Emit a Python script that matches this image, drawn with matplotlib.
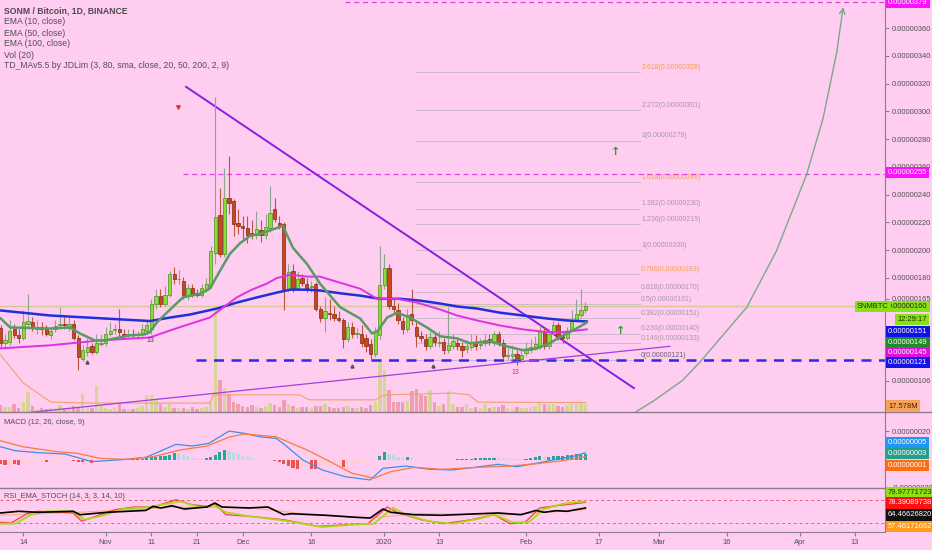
import datetime as dt
import matplotlib
matplotlib.use("Agg")
import matplotlib.pyplot as plt
from matplotlib.lines import Line2D

# ---------------- data (prices in units of 1e-8 BTC) ----------------
start_day = dt.date(2019, 10, 9)

opens = [144, 133, 134, 143.6, 138.7, 136.6, 147, 148, 143.5, 145,
         143, 139, 143, 146, 147, 144, 147, 137, 122, 126.5,
         130.8, 126.5, 132.5, 133, 140, 142.5, 143, 139.5, 139, 139.6,
         139, 139.6, 142, 143, 161.6, 167, 161, 168, 183, 179,
         178, 167, 173, 169, 168, 172, 174.5, 198, 225.3, 197.4,
         237.5, 235.4, 219.6, 217.5, 216, 212.5, 211, 214.6, 211, 216,
         229.6, 219.6, 218.9, 172.3, 185, 173, 180, 176, 173.5, 176,
         158, 151.5, 155, 154.4, 151.5, 150, 136, 144.4, 140, 140,
         137, 132.2, 125, 138.6, 175, 187, 160, 156.6, 148.7, 143.6,
         154.4, 144.4, 138, 136, 131, 137.2, 133, 133.6, 128, 130.8,
         133, 130.8, 128.6, 130, 133.6, 131.5, 133, 135.8, 133.6, 139.4,
         133, 124, 124, 125, 122, 125.7, 128, 130, 131, 142,
         131, 141, 146, 138, 137, 143.6, 149.4, 153, 156.6]
highs = [146, 140, 150, 147, 143, 156.6, 168.7, 152, 150, 148,
         146, 145, 150, 159, 152, 152, 150, 139, 132, 137,
         133, 140, 140, 145, 148, 147, 158, 143, 143, 143,
         142, 147, 150, 165, 172, 172, 174, 185, 188, 186,
         181, 176, 176, 172, 176, 180, 203, 310.6, 245, 259,
         267.6, 237, 230, 225, 225, 222, 228, 222, 226, 246,
         237.5, 225, 220, 190, 190, 185, 183, 180, 178, 177,
         160, 166, 165, 160, 156, 151, 148, 148, 144, 146,
         140, 136, 145, 203, 197, 190, 165, 162, 152, 158,
         172, 150, 142, 140, 142, 140, 142, 137, 159, 140,
         136, 134, 135, 140, 139, 137, 140, 140, 142, 142,
         136, 130, 132, 128, 128, 134, 136, 138, 146, 145,
         143, 149, 148, 141, 145, 157, 165, 172, 163]
lows = [130, 129, 132, 137, 133, 135, 144, 142, 140, 139,
        138, 136, 141, 143, 143, 142, 135, 113.6, 120, 124,
        125, 125, 131, 131, 138, 140, 138, 137, 137, 137,
        137, 138, 140, 140, 158, 159, 160, 166, 176, 176,
        165, 164, 166, 166, 166, 170, 173, 190, 195, 195,
        226, 210, 212, 208, 205, 208, 208, 206, 208, 213,
        220, 215, 156.6, 170, 170, 171, 174, 170, 170, 156,
        148, 140.8, 150, 149, 148, 129.3, 134, 137, 137, 130,
        127, 121, 123, 136, 172, 158, 155, 147, 140, 141,
        146, 130, 134, 128, 129, 131, 130, 125, 126, 129,
        128, 123, 126, 128, 128, 129, 131, 132, 131, 131,
        121, 121, 121, 117, 120, 124, 126, 128, 129, 129,
        129, 139, 135, 133, 135, 142, 148, 151, 155]
closes = [133, 135, 142, 138.7, 136.6, 148, 149, 144.5, 144.5, 143,
          140, 142, 145.6, 146.5, 146, 147, 137, 123, 128, 130,
          127, 133, 133.5, 140, 142, 143.5, 141, 139, 139.6, 139.4,
          139.5, 143.6, 146, 161.6, 167, 161.6, 168, 183, 179.5, 179.5,
          168, 173, 168, 168, 173, 176, 199.5, 224, 197.4, 237.5,
          234, 219, 217.5, 216, 211, 212, 215, 211, 216.8, 226.8,
          222.5, 218, 172.3, 184, 173, 179.5, 176.6, 173, 174, 158,
          151, 156, 154, 151.5, 150, 136, 144.4, 139.4, 140.5, 133,
          130.8, 125, 141, 175, 187, 160, 158, 149.4, 143, 153,
          149.4, 138, 137, 131, 137.2, 133.6, 133.5, 128, 131.5, 134.4,
          130.8, 128, 130.8, 133, 130.8, 132, 135, 133.6, 139.4, 133,
          123.6, 124.5, 125.5, 122.2, 124.3, 128, 130, 132.2, 142, 131,
          139.4, 146, 137, 136.6, 142, 149.4, 154.4, 156.6, 160]
volumes_m = [15.4, 11, 11, 17.6, 8.8, 22, 44, 13.2, 6.6, 8.8,
             6.6, 8.8, 6.6, 15.4, 8.8, 6.6, 13.2, 8.8, 39.6, 13.2,
             8.8, 57.2, 17.6, 8.8, 6.6, 8.8, 17.6, 6.6, 6.6, 6.6,
             8.8, 13.2, 37.4, 37.4, 26.4, 17.6, 11, 17.6, 8.8, 8.8,
             8.8, 6.6, 11, 6.6, 8.8, 11, 22, 226.6, 70.4, 52.8,
             39.6, 22, 17.6, 13.2, 11, 15.4, 11, 8.8, 13.2, 19.8,
             15.4, 11, 26.4, 17.6, 13.2, 8.8, 11, 11, 8.8, 13.2,
             13.2, 17.6, 11, 8.8, 8.8, 11, 13.2, 8.8, 8.8, 11,
             8.8, 15.4, 22, 116.6, 92.4, 48.4, 22, 22, 22, 24.2,
             46.2, 50.6, 37.4, 35.2, 48.4, 22, 13.2, 17.6, 46.2, 17.6,
             11, 11, 17.6, 8.8, 11, 8.8, 17.6, 8.8, 11, 11,
             15.4, 8.8, 6.6, 11, 8.8, 8.8, 11, 13.2, 19.8, 17.6,
             15.4, 17.6, 13.2, 11, 15.4, 17.6, 17.6, 19.8, 17.578]
vol_ma_days = [0, 5, 11, 20, 45.8, 46.6, 65.5, 67.5, 82, 83.5, 84.5, 99, 102.5, 104.5, 128]
vol_ma_m = [125, 63, 21, 19, 19, 37, 37, 26, 26, 35, 37, 41, 37, 21, 20]

# moving averages (day offset, price)
ema10_days = [0, 2.1, 6.5, 10.8, 15.2, 17.4, 20.7, 22.9, 25.1, 28.3, 31.6, 32.7, 34.2, 36.4,
              39.9, 43.7, 45.8, 48, 50.2, 52.4, 54.6, 56.8, 59.6, 61.8, 64, 65.5, 67.1, 69.9,
              74.3, 78.7, 81.3, 82.6, 84.6, 86.8, 89.6, 93.3, 96.2, 99.9, 102.7, 107.1, 110.8,
              114.3, 117.4, 120.2, 122.4, 125.3, 128.3]
ema10 = [151, 144.4, 144, 143.6, 144.4, 140, 135, 135, 136.6, 138.7, 139.4, 141, 148, 155,
         166, 168.7, 172.3, 185, 197.4, 205, 210.3, 211.7, 215, 217.5, 201.7, 196, 190, 176,
         159, 150.8, 140, 142, 151.5, 155, 151.5, 144.4, 138, 136.5, 133, 134.4, 130.8,
         128, 129.3, 133, 137.4, 142.2, 148]
ema50_days = [0, 10.8, 21.8, 32.7, 37.1, 41.5, 45.8, 48.7, 51.7, 54.6, 58.3, 60.5, 63.4, 67.1,
              69.9, 74.3, 78.7, 82.4, 86.8, 91.1, 96.2, 99.9, 104.3, 109.3, 114.3, 119.6, 123.1, 128.3]
ema50 = [129.3, 131.5, 135, 137.2, 142.2, 147, 151.5, 158.7, 166, 171, 176, 180, 182.3, 181,
         181, 176.6, 172.3, 165, 165, 162.3, 157.3, 153, 149.4, 145.8, 143, 141, 141, 143]
ema100_days = [0, 10.8, 21.8, 32.7, 37.1, 41.5, 47.4, 51.7, 56.1, 60.5, 63.4, 67.1, 69.9, 74.3,
               78.7, 83, 87.4, 91.8, 96.2, 99.9, 104.3, 109.3, 114.3, 119.6, 124, 128.3]
ema100 = [156.6, 153, 151, 149, 151.5, 153.7, 158, 162.3, 166, 169.5, 171.6, 171.6, 171, 169,
          167.3, 165, 165, 163.7, 161.6, 159.5, 158, 155, 153, 150.8, 149.4, 148.7]

# drawings
fib_ratio_labels = ['0', '0.146', '0.236', '0.382', '0.5', '0.618', '0.786', '1', '1.236',
                    '1.382', '1.618', '2', '2.272', '2.618']
fib_prices = [121, 133, 140, 151, 161, 170, 183, 200, 219, 230, 249, 279, 301, 328]
fib_highlight = ['0.786', '1.618', '2.618']
down_trend_days = [40.6, 138.6]
down_trend_prices = [317.7, 100.7]
up_trend_days = [0, 146.5]
up_trend_prices = [81, 130.8]
arc_days = [139.1, 143.2, 149.3, 153.1, 163.3, 169.8, 176.4, 180.0, 183.0, 184.4]
arc_prices = [83.7, 92.1, 106.4, 119.6, 158.9, 199.5, 254.5, 295, 342.8, 375.1]
last_price = 160
level_top, level_top_from = 379, 75.4
level_mid, level_mid_from = 255, 40
level_support, level_support_from = 121, 42.8

# MACD (12, 26, 9)
macd_days = [0, 3.2, 8.2, 14.1, 16.7, 20, 23.3, 27.5, 31.8, 34.2, 38.4, 41.9, 45.6, 50, 53.5,
             56.8, 60.3, 61.8, 66.2, 70.4, 75.4, 80.9, 83.7, 88.7, 93.8, 98.8, 103.8, 108.9,
             113, 117.2, 121.6, 125.7, 128]
macd = [9, 6.2, 4.8, 3.9, 1.5, -1.5, -0.8, 0.1, 1.5, 4.8, 10.7, 9.5, 11.4, 20, 18.4, 16, 14.9,
        11.4, -0.4, -7.4, -12.1, -14.4, -6.2, -4.6, -6.9, -7.4, -5.5, -3.4, -5.1, -2.7, 0.1,
        2.5, 4.8]
signal_days = [0, 4.9, 12.4, 16.7, 21.8, 27.5, 33.4, 39.3, 45.2, 50.2, 53.5, 60.3, 67.1, 72.1,
               76.9, 81.7, 85.4, 90.5, 96.4, 104.7, 111.5, 117.2, 123.1, 128]
signal = [13.2, 9, 5.5, 4.4, 0.8, 0.1, 2, 6.7, 9.5, 16, 18, 16, 6.7, -1.5, -9.7, -13.2, -8.6,
          -5.5, -6.9, -5.5, -4.6, -3, -0.8, 2]
macd_hist = [-3.5, -3.8, -3.0, -3.4, -3.6, -3.0, -2.6, -2.3, -2.0, -1.6,
             -1.9, -1.5, -1.2, -1.0, -0.8, -0.6, -1.2, -1.8, -2.0, -1.6,
             -2.2, -1.6, -1.2, -0.8, -0.6, -0.4, -0.3, -0.2, -0.1, 0.1,
             0.3, 0.5, 1.0, 1.5, 2.0, 2.3, 2.7, 3.5, 4.5, 3.8,
             3.0, 2.2, 1.4, 0.6, 0.3, 1.2, 2.0, 3.5, 5.0, 6.5,
             6.0, 4.8, 3.6, 2.6, 1.6, 0.8, 0.3, -0.3, -0.4, -0.5,
             -0.8, -1.5, -3.0, -4.5, -6.0, -7.0, -6.0, -5.0, -6.5, -7.0,
             -6.0, -5.0, -4.0, -3.0, -2.5, -5.0, -4.5, -3.8, -3.2, -2.6,
             -2.0, -1.5, -0.8, 2.3, 5.0, 4.0, 3.0, 2.0, 1.0, 1.8,
             1.0, 0.2, -0.4, -0.3, -0.2, -0.5, -0.3, -0.5, -0.2, 0.0,
             0.2, 0.3, 0.5, 0.7, 0.8, 1.0, 1.1, 1.2, 1.4, 1.2,
             0.8, 0.5, 0.3, 0.2, 0.1, 0.4, 0.8, 2.0, 2.2, 1.5,
             1.8, 2.2, 2.4, 2.6, 3.0, 3.3, 3.6, 3.8, 4.0]

# RSI_EMA_STOCH
rsi_days = [0, 4, 8.2, 15.9, 17.4, 23.3, 31.8, 33.4, 35.1, 37.5, 40.2, 45.2, 46.9, 48.5, 54.4,
            58.5, 62, 63.6, 71.2, 77.8, 80.9, 83.7, 85.4, 90.5, 96.4, 104.7, 108.9, 113.9,
            117.2, 118.9, 121.6, 124, 128]
rsi = [46, 50.6, 47.8, 50.6, 41.3, 47.8, 53, 64, 59.6, 65.8, 56.8, 62.3, 73.2, 62.3, 59.6,
       62.3, 41.3, 44, 39.7, 34.2, 32.3, 56.8, 47.8, 41.3, 39.7, 44, 46, 41.3, 53, 47.8, 52.2,
       50.6, 59.6]
stoch_k_days = [0, 2.3, 5.8, 8.2, 15.9, 17.8, 21.8, 25.1, 29.2, 33.4, 38.4, 41.9, 45.2, 46.9,
                49.3, 54.4, 62, 69.5, 75.4, 80.4, 84.6, 87, 92, 97, 103, 108, 111.5, 114.8,
                118, 121.6, 125.7, 128]
stoch_k = [20.6, 18.7, 44, 50.6, 46, 23.3, 41.3, 55, 62.3, 62.3, 82.2, 68.6, 64, 71.3, 41.3,
           37, 27.7, 9.7, 14, 16.8, 62.3, 46, 27.7, 16.8, 27.7, 41.3, 16.8, 20.6, 59.6, 65.8,
           71.3, 75]
stoch_d_days = [0, 3.2, 6.7, 10, 15.9, 18.3, 22.4, 26.8, 32.5, 39.3, 43.4, 46.9, 49.3, 54.4,
                62, 70.4, 76.9, 81.7, 85.9, 88.7, 93.8, 98.8, 104.7, 108, 112.1, 115.6, 118.9,
                123.1, 128]
stoch_d = [16.8, 16.8, 41.3, 50.6, 50.6, 27.7, 39, 56.8, 62.3, 77.7, 62.3, 66, 47.8, 37, 25.4,
           7.8, 14, 16.8, 59.6, 41.3, 23.3, 16.8, 30.3, 41.3, 20.6, 20.6, 56.8, 71.3, 77.7]
rsi_ema_days = [0, 17.4, 39.3, 54.6, 65.5, 80.9, 91.8, 109.3, 128]
rsi_ema = [40, 48, 62, 60, 45, 32, 45, 40, 55]

tick_dates = ['2019-10-14', '2019-11-01', '2019-11-11', '2019-11-21', '2019-12-01',
              '2019-12-16', '2020-01-01', '2020-01-13', '2020-02-01', '2020-02-17',
              '2020-03-01', '2020-03-16', '2020-04-01', '2020-04-13']
tick_labels = ['14', 'Nov', '11', '21', 'Dec', '16', '2020', '13', 'Feb', '17', 'Mar', '16',
               'Apr', '13']
price_ticks = [360, 340, 320, 300, 280, 260, 240, 220, 200, 180, 165, 106]

# ---------------- figure ----------------
plt.rcParams['font.family'] = ['Liberation Sans', 'DejaVu Sans']
BG = '#ffcdf0'
EDGE = '#8c7c8c'
TXT = '#505050'
W, H = 932, 550
FS = 5.4

fig = plt.figure(figsize=(W / 100, H / 100), dpi=100)
fig.patch.set_facecolor(BG)
right = 885 / W
ax = fig.add_axes([0, 1 - 411.7 / H, right, 411.7 / H])
axm = fig.add_axes([0, 1 - 488.3 / H, right, 76.6 / H], sharex=ax)
axr = fig.add_axes([0, 1 - 532 / H, right, 43.7 / H], sharex=ax)

days = list(range(len(opens)))

# volume on its own scale behind the candles
axv = ax.twinx()
axv.set_ylim(0, 905.7)
axv.set_zorder(0)
ax.set_zorder(1)
axv.patch.set_facecolor(BG)
axv.patch.set_visible(True)
axv.set_yticks([])
for s in axv.spines.values():
    s.set_visible(False)

for a in (ax, axm, axr):
    a.set_facecolor(BG)
    for s in ('left', 'top', 'bottom'):
        a.spines[s].set_visible(False)
    a.spines['right'].set_color(EDGE)
    a.yaxis.tick_right()
    a.tick_params(axis='y', left=False, labelleft=False, right=True, labelright=True,
                  length=3, pad=2, labelsize=FS, colors=EDGE, labelcolor=TXT)
    a.tick_params(axis='x', bottom=False, labelbottom=False)
ax.patch.set_visible(False)

ax.set_xlim(-0.11, 193.55)
ax.set_ylim(83.7, 380.2)

up = [c >= o for o, c in zip(opens, closes)]
axv.bar(days, volumes_m, width=0.75,
        color=['#d2d68e' if u else '#eb9aa8' for u in up], alpha=0.9)
axv.plot(vol_ma_days, vol_ma_m, color='#f2a070', lw=0.8)

# fib levels
fib_from = 91
for lab, p in zip(fib_ratio_labels, fib_prices):
    ax.plot([fib_from, 140], [p, p], color='#c8b4c8', lw=0.6, zorder=1)
    col = '#f5a050' if lab in fib_highlight else ('#6a6070' if lab == '0' else '#a898a8')
    ax.text(140.2, p + 0.8, f'{lab}({p * 1e-8:.8f})', fontsize=5.0, color=col,
            va='bottom', ha='left', zorder=2)

# horizontal levels
ax.axhline(last_price, color='#d6c890', lw=1, zorder=1)
ax.plot([level_top_from, 200], [level_top, level_top], color='#e040e0', lw=0.9,
        ls=(0, (4, 3)), zorder=2)
ax.plot([level_mid_from, 200], [level_mid, level_mid], color='#e040e0', lw=0.9,
        ls=(0, (4, 3)), zorder=2)
ax.plot([level_support_from, 200], [level_support, level_support], color='#2a2ae8', lw=1.8,
        ls=(0, (4, 3)), zorder=2)

# trend lines and projection arc
ax.plot(down_trend_days, down_trend_prices, color='#8a1ee0', lw=1.4, zorder=3)
ax.plot(up_trend_days, up_trend_prices, color='#a040e0', lw=0.9, zorder=3)
ax.plot(arc_days[:-1], arc_prices[:-1], color='#78aa88', lw=1, zorder=3)
ax.annotate('', xy=(arc_days[-1], arc_prices[-1]), xytext=(arc_days[-2], arc_prices[-2]),
            arrowprops=dict(arrowstyle='->', color='#78aa88', lw=1, shrinkA=0, shrinkB=0),
            zorder=3)

# candles
for d, o, h, l, c, u in zip(days, opens, highs, lows, closes, up):
    wick = '#8aa88a' if u else '#b85a3a'
    ax.vlines(d, l, h, color=wick, lw=0.8, zorder=4)
    bottom = min(o, c)
    height = max(abs(c - o), 0.6)
    ax.bar(d, height, bottom=bottom, width=0.72,
           color='#86e030' if u else '#c8481e',
           edgecolor='#4f8a2a' if u else '#7e2a12', lw=0.5, zorder=5)

# moving averages
ax.plot(ema100_days, ema100, color='#2030d8', lw=1.8, zorder=6)
ax.plot(ema50_days, ema50, color='#e030e0', lw=1.4, zorder=6)
ax.plot(ema10_days, ema10, color='#5a9a66', lw=1.8, zorder=6)

# TD markers
ax.plot([38.8], [303], marker='v', color='#e03030', ms=2.5, zorder=7)
ax.plot([18.9, 76.9, 94.6], [119.3, 116.5, 116.5], marker='^', ls='none', color='#555555',
        ms=2.2, zorder=7)
ax.text(112.7, 112, '13', color='#e03030', fontsize=5, ha='center', va='center', zorder=7)
ax.text(32.7, 135, '13', color='#404040', fontsize=5, ha='center', va='center', zorder=7)
ax.text(134.5, 271, '↑', color='#20a030', fontsize=8, fontweight='bold', ha='center',
        va='center', family='DejaVu Sans', zorder=7)
ax.text(135.6, 141.6, '↑', color='#20a030', fontsize=8, fontweight='bold', ha='center',
        va='center', family='DejaVu Sans', zorder=7)

ax.set_yticks(price_ticks)
ax.set_yticklabels([f'{v * 1e-8:.8f}' for v in price_ticks])

# MACD panel
axm.set_ylim(-20.3, 33.7)
hist_cols = []
prev = 0
for v in macd_hist:
    if v >= 0:
        hist_cols.append('#26a69a' if v >= prev else '#b2dfdb')
    else:
        hist_cols.append('#ef5350' if v < prev else '#ffcdd2')
    prev = v
axm.bar(days, macd_hist, width=0.7, color=hist_cols)
axm.plot(macd_days, macd, color='#3d8fe8', lw=0.9)
axm.plot(signal_days, signal, color='#f57c3a', lw=0.9)
axm.set_yticks([20, -20])
axm.set_yticklabels(['0.00000020', '-0.00000020'])

# RSI / stoch panel
axr.set_ylim(-5.8, 113.2)
axr.axhline(80, color='#e06070', lw=0.7, ls=(0, (3, 3)))
axr.axhline(20, color='#7a9a8a', lw=0.7, ls=(0, (3, 3)))
axr.plot(rsi_ema_days, rsi_ema, color='#f6b080', lw=0.8)
axr.plot(stoch_k_days, stoch_k, color='#ff3a3a', lw=0.9)
axr.plot(stoch_d_days, stoch_d, color='#a8d81a', lw=1.3)
axr.plot(rsi_days, rsi, color='#000000', lw=1.2)
axr.set_yticks([])

tick_pos = [(dt.date.fromisoformat(t) - start_day).days for t in tick_dates]
axr.set_xticks(tick_pos)
axr.set_xticklabels(tick_labels)
axr.tick_params(axis='x', bottom=True, labelbottom=True, length=3, labelsize=FS,
                colors=EDGE, labelcolor=TXT, pad=2)
axr.spines['bottom'].set_visible(True)
axr.spines['bottom'].set_color(EDGE)

# panel separators
for y in (411.7, 488.3):
    fig.add_artist(Line2D([0, 1], [1 - y / H, 1 - y / H], color=EDGE, lw=1))


def fpx(x, y):
    return x / W, 1 - y / H


# header texts
fig.text(*fpx(4, 11), 'SONM / Bitcoin, 1D, BINANCE', fontsize=6.2, fontweight='bold',
         color='#4a4a4a', va='center')
for i, t in enumerate(['EMA (10, close)', 'EMA (50, close)', 'EMA (100, close)', 'Vol (20)',
                       'TD_MAv5.5 by JDLim (3, 80, sma, close, 20, 50, 200, 2, 9)']):
    fig.text(*fpx(4, 22 + 11 * i), t, fontsize=6.2, color='#505050', va='center')
fig.text(*fpx(4, 423), 'MACD (12, 26, close, 9)', fontsize=FS, color='#505050', va='center')
fig.text(*fpx(4, 497), 'RSI_EMA_STOCH (14, 3, 3, 14, 10)', fontsize=FS, color='#505050',
         va='center')

# price scale badges
badges = [
    ('0.00000379', 2, '#ff10ff', 'white'),
    ('0.00000255', 172.7, '#ff10ff', 'white'),
    ('0.00000160', 306.7, '#86e01a', '#203000'),
    ('0.00000151', 331.7, '#1010e8', 'white'),
    ('0.00000149', 342.2, '#1e8a2a', 'white'),
    ('0.00000145', 352.7, '#e010e0', 'white'),
    ('0.00000121', 362.7, '#1414e6', 'white'),
    ('17.578M', 406, '#f7a15a', '#402000'),
    ('0.00000005', 442.7, '#2196f3', 'white'),
    ('0.00000003', 453.3, '#22a08e', 'white'),
    ('0.00000001', 465.7, '#ff6d10', 'white'),
    ('79.97771723', 492.5, '#8ee010', '#203000'),
    ('78.39089738', 503, '#ff1010', 'white'),
    ('64.46626820', 515, '#111111', 'white'),
    ('57.46171662', 526.7, '#ff9a1a', 'white'),
]
for text, y, fc, tc in badges:
    fig.text(*fpx(888, y), text, fontsize=FS, color=tc, va='center', ha='left',
             bbox=dict(boxstyle='square,pad=0.28', fc=fc, ec='none'))
fig.text(*fpx(857, 306.7), 'SNMBTC', fontsize=FS, color='#203000', va='center', ha='left',
         bbox=dict(boxstyle='square,pad=0.28', fc='#86e01a', ec='none'))
fig.text(*fpx(897, 319.5), '12:29:17', fontsize=FS, color='#203000', va='center', ha='left',
         bbox=dict(boxstyle='square,pad=0.28', fc='#86e01a', ec='none'))

fig.savefig('out.png', dpi=100, facecolor=BG)
